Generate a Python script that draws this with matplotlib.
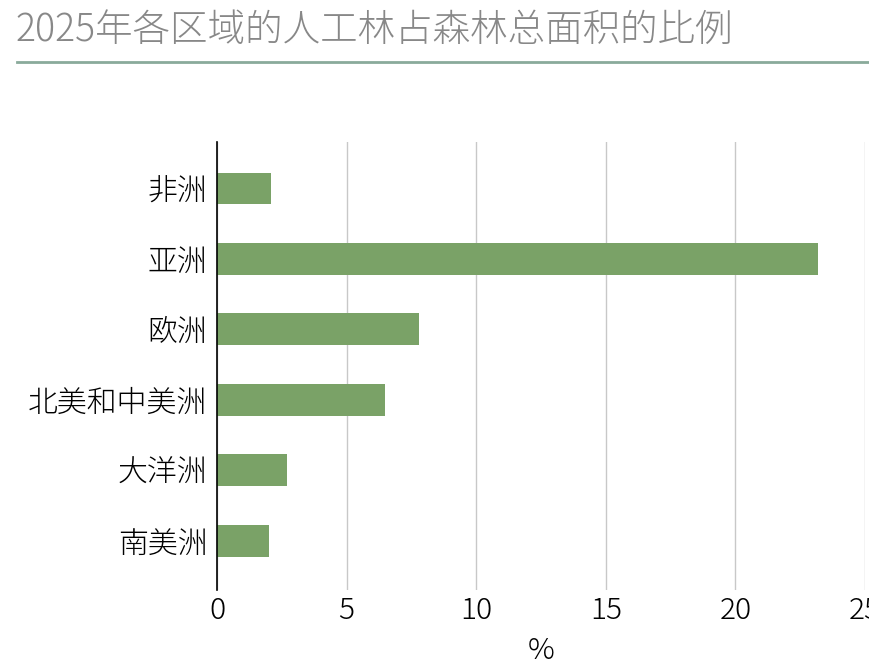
import matplotlib
matplotlib.use('Agg')
import matplotlib.pyplot as plt
from matplotlib.lines import Line2D

# the Light face of the CJK collection is registered under the JP name
plt.rcParams['font.family'] = ['Noto Sans CJK JP', 'DejaVu Sans']
plt.rcParams['font.weight'] = 300

# data
regions = ['非洲', '亚洲', '欧洲', '北美和中美洲', '大洋洲', '南美洲']
planted_share = [2.1, 23.2, 7.8, 6.5, 2.7, 2.0]
x_ticks = [0, 5, 10, 15, 20, 25]

title = '2025年各区域的人工林占森林总面积的比例'
bar_color = '#7aa267'

fig = plt.figure(figsize=(8.7, 6.63), dpi=100)
ax = fig.add_axes([0.2494, 0.110, 0.745, 0.676])

pos = list(range(len(regions)))
ax.barh(pos, planted_share, height=0.45, color=bar_color, zorder=3)

ax.set_xlim(0, 25)
ax.set_ylim(5.7, -0.66)
ax.set_yticks(pos)
ax.set_yticklabels(regions, fontsize=21.5, fontweight=300)
ax.set_xticks(x_ticks)
ax.set_xticklabels([str(t) for t in x_ticks], fontsize=21.5, fontweight=300)
ax.tick_params(axis='y', length=0, pad=7)
ax.tick_params(axis='x', length=0, pad=4)
ax.grid(axis='x', color='#c8c8c8', linewidth=1, zorder=0)

for s in ['top', 'right', 'bottom']:
    ax.spines[s].set_visible(False)
ax.spines['left'].set_color('black')
ax.spines['left'].set_linewidth(1.2)
ax.spines['left'].set_zorder(4)

ax.set_xlabel('%', fontsize=21.5, fontweight=300, labelpad=7)

fig.text(0.018, 0.955, title, fontsize=27, color='#888888',
         fontweight=300, va='center', ha='left')
fig.add_artist(Line2D([0.019, 1.0], [0.906, 0.906], color='#8aaa9b',
                      linewidth=2, transform=fig.transFigure))

fig.savefig('out.png', dpi=100)
